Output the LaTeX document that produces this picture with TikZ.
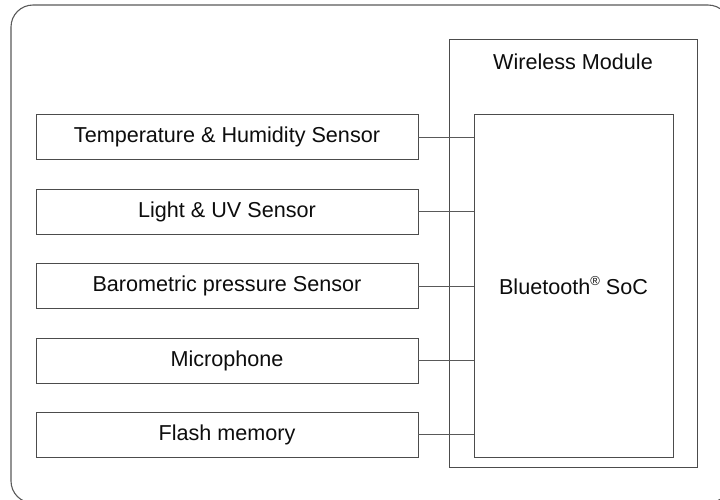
\documentclass[tikz,border=0pt]{standalone}
\usepackage{fontspec}
\setmainfont{Liberation Sans}
\begin{document}
\begin{tikzpicture}[x=1pt,y=-1pt,
  box/.style={draw=black!70, line width=0.9pt, fill=white, inner sep=0pt, text=black!95,
    font=\fontsize{21.6}{25}\selectfont},
  sensor/.style={box, minimum width=382pt, minimum height=45pt},
  wire/.style={draw=black!65, line width=0.9pt}
]
\useasboundingbox (0,0) rectangle (720,499);
\begin{scope}
\clip (0,0) rectangle (720,499);
\draw[black!65, line width=1.1pt, rounded corners=22pt] (11,5) rectangle (730,503);
\end{scope}
\node[box, minimum width=248pt, minimum height=428pt] (wm) at (573,253) {};
\node[box, anchor=center, draw=none, fill=none] (wml) at (573,62) {Wireless Module};
\node[box, minimum width=199pt, minimum height=343pt] (soc) at (573.5,285.5) {Bluetooth\raisebox{0.42em}{\fontsize{13}{13}\selectfont ®} SoC};
\node[sensor] (s1) at (227,137) {Temperature \& Humidity Sensor};
\node[sensor] (s2) at (227,211.5) {Light \& UV Sensor};
\node[sensor] (s3) at (227,286) {Barometric pressure Sensor};
\node[sensor] (s4) at (227,360.5) {Microphone};
\node[sensor] (s5) at (227,434.5) {Flash memory};
\foreach \s in {s1,s2,s3,s4,s5}
  \draw[wire] (\s.east) -- (\s.east -| soc.west);
\end{tikzpicture}
\end{document}
